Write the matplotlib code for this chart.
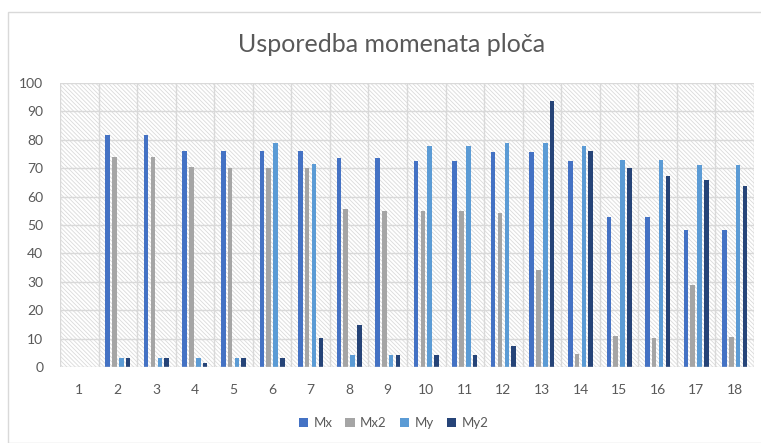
import matplotlib
matplotlib.use("Agg")
import matplotlib.pyplot as plt
from matplotlib.patches import Rectangle
import numpy as np

plt.rcParams['font.family'] = ['Lato', 'DejaVu Sans']

# Moment values per plate position
categories = [str(i) for i in range(1, 19)]
mx  = [0, 81.8, 81.8, 75.9, 75.9, 75.9, 75.9, 73.5, 73.5, 72.6, 72.6, 75.8, 75.8, 72.6, 52.7, 52.7, 48.4, 48.4]
mx2 = [0, 74.1, 74.1, 70.4, 70.0, 70.0, 70.0, 55.6, 54.9, 54.9, 54.9, 54.1, 34.0, 4.5, 10.9, 10.2, 28.9, 10.6]
my  = [0, 3.2, 3.2, 3.2, 3.2, 78.8, 71.6, 4.4, 4.2, 77.9, 77.9, 78.7, 78.7, 77.9, 72.9, 72.9, 71.3, 71.3]
my2 = [0, 3.2, 3.2, 1.5, 3.2, 3.2, 10.2, 14.7, 4.2, 4.1, 4.1, 7.4, 93.5, 76.0, 70.2, 67.1, 65.9, 63.6]

series = [("Mx", mx, "#4472C4"), ("Mx2", mx2, "#A5A5A5"),
          ("My", my, "#5B9BD5"), ("My2", my2, "#264478")]

grid_c = "#D9D9D9"
text_c = "#595959"

fig = plt.figure(figsize=(7.61, 4.43), dpi=100)
# chart frame
fig.patches.append(Rectangle((8 / 761, 0), 1.0, 1 - 12 / 443, transform=fig.transFigure,
                             fill=False, edgecolor=grid_c, linewidth=1.0))

ax = fig.add_axes([60 / 761, 1 - 367 / 443, 694 / 761, 284 / 443])
x = np.arange(len(categories))
n = len(categories)

# hatched plot-area background
plt.rcParams['hatch.linewidth'] = 0.6
bg = Rectangle((-0.5, 0), n, 100, facecolor="white", edgecolor="#DADADA",
               hatch="\\" * 8, linewidth=0, zorder=0)
ax.add_patch(bg)

width = 0.117
step = 0.177
for k, (name, vals, col) in enumerate(series):
    ax.bar(x + (k - 1.5) * step, vals, width=width, color=col, label=name,
           zorder=3, linewidth=0)

ax.set_xlim(-0.5, n - 0.5)
ax.set_ylim(0, 100)
ax.set_yticks(np.arange(0, 101, 10))
ax.set_xticks(x)
ax.set_xticklabels(categories)

for yv in np.arange(10, 101, 10):
    ax.axhline(yv, color=grid_c, linewidth=1.0, zorder=1)
for xv in np.arange(-0.5, n, 1.0):
    ax.axvline(xv, color=grid_c, linewidth=1.0, zorder=1)

for s in ax.spines.values():
    s.set_visible(False)
ax.axhline(0, color=grid_c, linewidth=1.0, zorder=4)

ax.tick_params(axis='both', length=0, colors=text_c, labelsize=10)
ax.tick_params(axis='y', pad=12)
ax.tick_params(axis='x', pad=12)

fig.text(0.515, 1 - 45 / 443, "Usporedba momenata ploča", ha="center", va="center",
         fontsize=18, color=text_c)

leg = fig.legend(loc="center", bbox_to_anchor=(0.517, 1 - 423 / 443), ncol=4,
                 frameon=False, fontsize=9.5, handlelength=0.7, handleheight=0.7,
                 handletextpad=0.4, columnspacing=1.0, labelcolor=text_c)

fig.savefig("out.png", dpi=100)
